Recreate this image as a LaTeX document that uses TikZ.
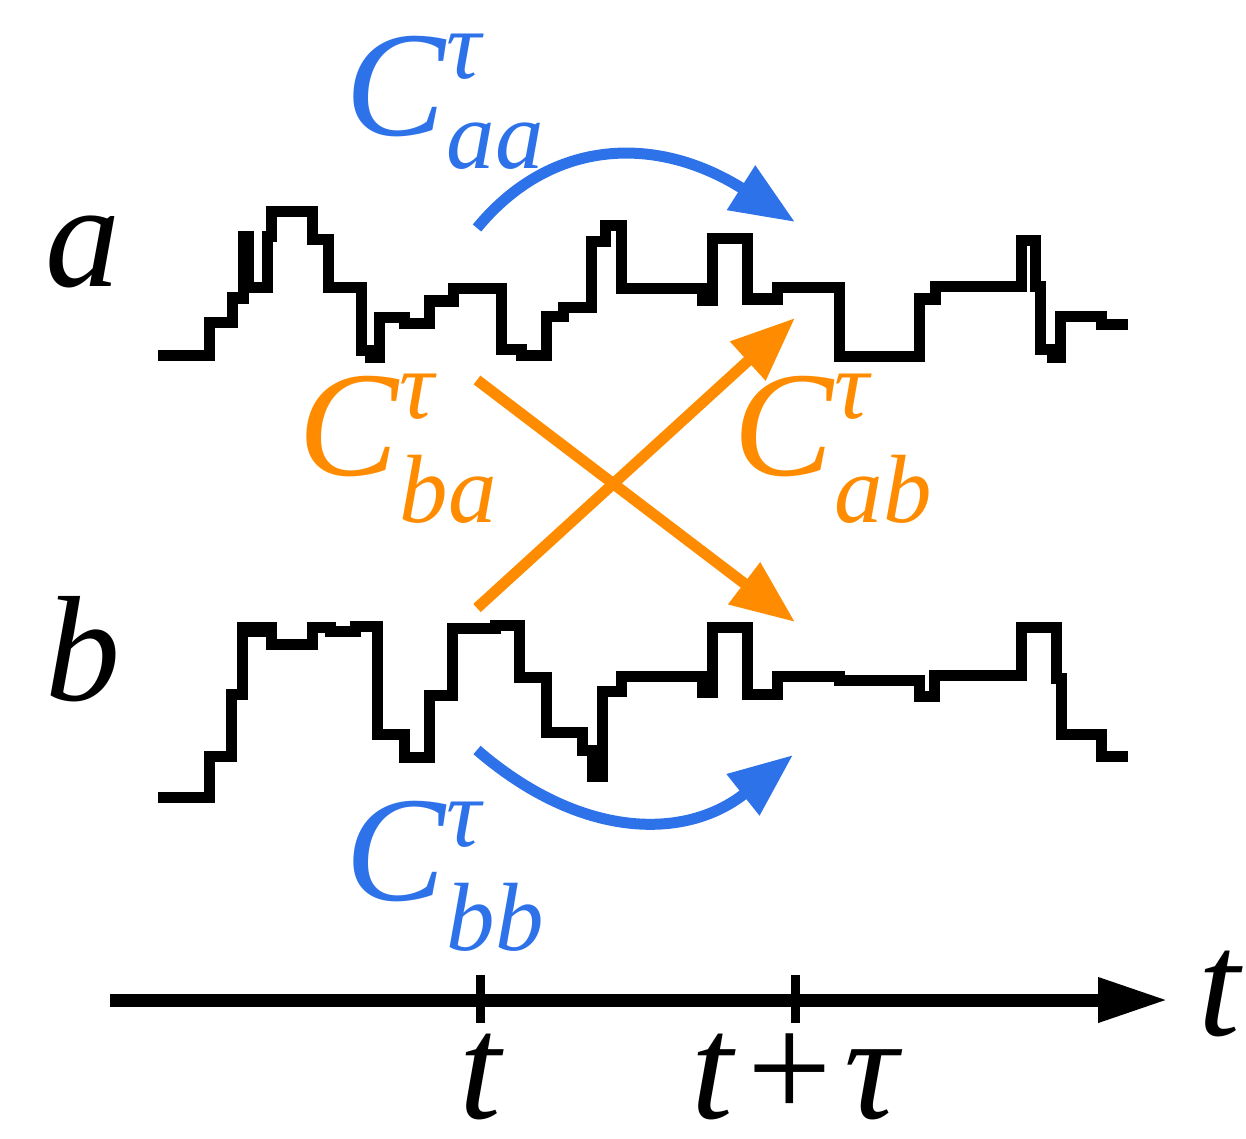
\documentclass[tikz,border=0pt]{standalone}
\usepackage{fontspec}
\setmainfont{Liberation Serif}
\usetikzlibrary{arrows.meta}
\definecolor{cblue}{HTML}{2E72EA}
\definecolor{corange}{HTML}{FF8C00}
\newcommand\bigsz{\fontsize{150}{150}\selectfont}
\newcommand\smallsz{\fontsize{97}{97}\selectfont}
\newcommand\clab[3]{\bigsz\textit{C}\makebox[0pt][l]{\raisebox{#2}{\smallsz\textit{τ}}}\raisebox{#3}{\smallsz\textit{#1}}}
\begin{document}
\begin{tikzpicture}[x=1pt,y=-1pt,
  trace/.style={line width=11pt,line join=miter,black},
  bluearc/.style={cblue,line width=11pt,-{Triangle[length=64pt,width=50pt]}},
  orangearr/.style={corange,line width=11pt,-{Triangle[length=64pt,width=50pt]}},
  axisline/.style={line width=13pt,-{Triangle[length=70pt,width=42pt]}},
  tickmark/.style={line width=9pt},
  lab/.style={inner sep=0pt,anchor=base west}]
\useasboundingbox (0,0) rectangle (1246,1139);
% trace a
\draw[trace] (158,355)--(209,355)--(209,322)--(232,322)--(232,298)--(243,298)--(243,237)--(248,237)--(248,288)--(267,288)--(267,237)--(271,237)--(271,212)--(312,212)--(312,240)--(328,240)--(328,288)--(361,288)--(361,350)--(370,350)--(370,357)--(379,357)--(379,317)--(404,317)--(404,323)--(429,323)--(429,301)--(453,301)--(453,289)--(501,289)--(501,349)--(521,349)--(521,355)--(546,355)--(546,316)--(563,316)--(563,307)--(591,307)--(591,242)--(605,242)--(605,226)--(621,226)--(621,289)--(702,289)--(702,300)--(712,300)--(712,239)--(747,239)--(747,299)--(777,299)--(777,288)--(839,288)--(839,356)--(919,356)--(919,299)--(935,299)--(935,287)--(1021,287)--(1021,241)--(1035,241)--(1035,287)--(1040,287)--(1040,349)--(1052,349)--(1052,357)--(1060,357)--(1060,316)--(1101,316)--(1101,324)--(1128,324);
% trace b
\draw[trace] (158,797)--(209,797)--(209,756)--(231,756)--(231,694)--(242,694)--(242,627)--(253,627)--(253,631)--(262,631)--(262,627)--(271,627)--(271,644)--(312,644)--(312,627)--(330,627)--(330,631)--(355,631)--(355,626)--(377,626)--(377,734)--(404,734)--(404,757)--(429,757)--(429,695)--(452,695)--(452,628)--(495,628)--(495,625)--(519,625)--(519,677)--(546,677)--(546,732)--(582,732)--(582,750)--(592,750)--(592,776)--(602,776)--(602,691)--(621,691)--(621,676)--(702,676)--(702,692)--(712,692)--(712,627)--(747,627)--(747,694)--(777,694)--(777,676)--(839,676)--(839,680)--(919,680)--(919,696)--(934,696)--(934,675)--(1021,675)--(1021,627)--(1056,627)--(1056,678)--(1061,678)--(1061,734)--(1101,734)--(1101,756)--(1128,756);
% labels a, b
\node[lab] (la) at (45,287) {\bigsz\textit{a}};
\node[lab] (lb) at (45,700) {\bigsz\textit{b}};
% arrows
\coordinate (aas) at (477,228);
\coordinate (aae) at (795,222);
\coordinate (bbs) at (477,750);
\coordinate (bbe) at (793,755);
\draw[bluearc] (aas) .. controls (552,137) and (658,135) .. (aae);
\draw[bluearc] (bbs) .. controls (580,839) and (685,841) .. (bbe);
\coordinate (bas) at (477,380);
\coordinate (bae) at (795,622);
\coordinate (abs) at (477,608);
\coordinate (abe) at (795,318);
\draw[orangearr] (bas) -- (bae);
\draw[orangearr] (abs) -- (abe);
% correlation labels
\node[lab,cblue] (caa) at (345,136) {\clab{aa}{57pt}{-33pt}};
\node[lab,corange] (cba) at (298,475) {\clab{ba}{57pt}{-47pt}};
\node[lab,corange] (cab) at (733,475) {\clab{ab}{57pt}{-47pt}};
\node[lab,cblue] (cbb) at (345,900) {\clab{bb}{54pt}{-50pt}};
% time axis
\coordinate (ax0) at (110,1000);
\coordinate (ax1) at (1168,1000);
\draw[axisline] (ax0) -- (ax1);
\coordinate (t1) at (480,1000);
\coordinate (t2) at (795,1000);
\draw[tickmark] ([yshift=-23pt]t1) -- ([yshift=25pt]t1);
\draw[tickmark] ([yshift=-23pt]t2) -- ([yshift=25pt]t2);
\node[inner sep=0pt,anchor=base] (lt1) at (482,1118) {\bigsz\textit{t}};
\node[inner sep=0pt,anchor=base] (lt2) at (797,1118) {\bigsz\textit{t}\kern12pt+\kern12pt\textit{τ}};
\node[lab] (lt) at (1198,1035) {\bigsz\textit{t}};
\end{tikzpicture}
\end{document}
